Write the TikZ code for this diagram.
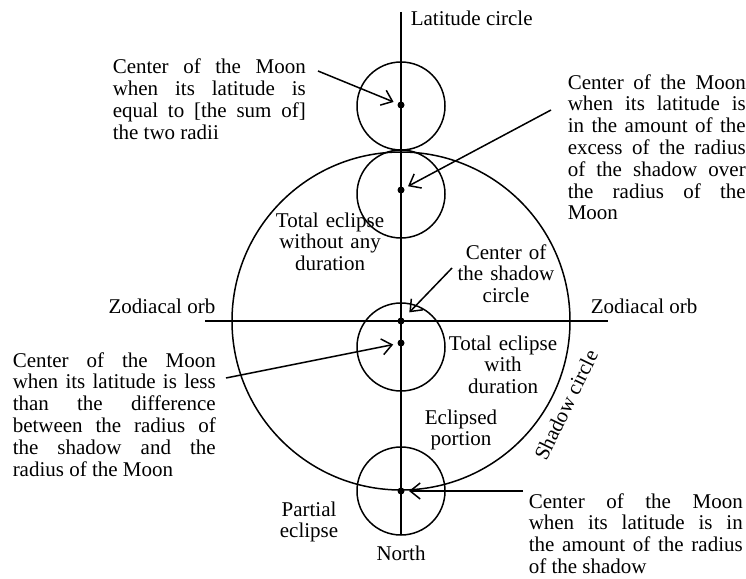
\documentclass[tikz,border=0pt]{standalone}
\usepackage{fontspec}
\setmainfont{Liberation Serif}
\usetikzlibrary{arrows.meta}
\begin{document}
\begin{tikzpicture}[x=1pt,y=-1pt,
  line width=1.5pt,
  lbl/.style={inner sep=0pt, font=\fontsize{21}{21.8}\selectfont},
  jblock/.style={lbl, align=justify, anchor=base west},
  cblock/.style={lbl, align=center, anchor=base},
  moon/.style={draw, circle, minimum size=88pt, inner sep=0pt},
  ptr/.style={-{Straight Barb[length=10pt,width=16pt]}, shorten >=8pt},
  dotc/.style={fill, circle, inner sep=0pt, minimum size=7pt}]
\useasboundingbox (0,0) rectangle (746,578);

% axes
\coordinate (vt) at (401,12);
\coordinate (vb) at (401,535);
\coordinate (hl) at (205,321);
\coordinate (hr) at (608,321);
\draw (vt) -- (vb);
\draw (hl) -- (hr);

% shadow circle
\node[draw, circle, minimum size=338pt, inner sep=0pt] (shadow) at (401,321) {};
\node[dotc] (sc) at (401,321) {};

% moons
\node[moon] (m1) at (401,106) {};
\node[moon] (m2) at (401,194) {};
\node[moon] (m3) at (401,347) {};
\node[moon] (m4) at (401,491) {};
\node[dotc] (d1) at (401,105) {};
\node[dotc] (d2) at (401,190) {};
\node[dotc] (d3) at (401,343) {};
\node[dotc] (d4) at (401,491) {};

% labels
\node[lbl, anchor=base west] (lat) at (410,26) {Latitude circle};
\node[lbl, anchor=base east] (zl) at (216,313) {Zodiacal orb};
\node[lbl, anchor=base west] (zr) at (590,313) {Zodiacal orb};
\node[cblock, text width=60pt] (north) at (401,560) {North};

\node[jblock, text width=193pt] (b1) at (112,74)
 {Center of the Moon\linebreak when its latitude is\linebreak equal to [the sum of]\linebreak the two radii};
\node[jblock, text width=178pt] (b2) at (567,89)
 {Center of the Moon\linebreak when its latitude is\linebreak in the amount of the\linebreak excess of the radius\linebreak of the shadow over\linebreak the radius of the\linebreak Moon};
\node[jblock, text width=203pt] (b3) at (12,367)
 {Center of the Moon\linebreak when its latitude is less\linebreak than the difference\linebreak between the radius of\linebreak the shadow and the\linebreak radius of the Moon};
\node[jblock, text width=214pt] (b4) at (528,508)
 {Center of the Moon\linebreak when its latitude is in\linebreak the amount of the radius\linebreak of the shadow};

\node[cblock, text width=112pt] (tewo) at (330,227) {Total eclipse\\without any\\duration};
\node[cblock, text width=100pt] (csc) at (506,259) {Center of\\the shadow\\circle};
\node[cblock, text width=110pt] (tew) at (503,350) {Total eclipse\\with\\duration};
\node[cblock, text width=78pt] (ecl) at (461,424) {Eclipsed\\portion};
\node[cblock, text width=64pt] (pe) at (309,516) {Partial\\eclipse};
\node[lbl, rotate=64] (shl) at (566,405) {Shadow circle};

% arrows
\coordinate (t1) at (318,71);
\coordinate (t2) at (551,110);
\coordinate (t3) at (452,268);
\coordinate (t4) at (226,378);
\coordinate (t5) at (523,491);
\draw[ptr] (t1) -- (d1.center);
\draw[ptr] (t2) -- (d2.center);
\draw[ptr, shorten >=12pt] (t3) -- (sc.center);
\draw[ptr] (t4) -- (d3.center);
\draw[ptr] (t5) -- (d4.center);
\end{tikzpicture}
\end{document}
